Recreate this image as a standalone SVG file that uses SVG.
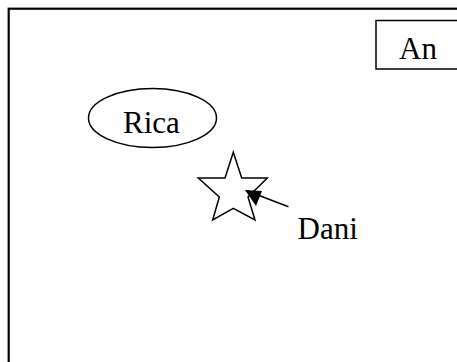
<svg xmlns="http://www.w3.org/2000/svg" width="457" height="362" viewBox="0 0 457 362">
<style>
.sh{fill:none;stroke:#000;stroke-width:1.5}
.t{font-family:"Liberation Serif","Times New Roman",serif;font-size:31px;fill:#000}
</style>
<defs>
<marker id="ah" markerWidth="10" markerHeight="8" refX="9" refY="4" orient="auto" markerUnits="userSpaceOnUse" viewBox="0 0 10 8">
<path d="M0,0 L10,4 L0,8 z" fill="#000"/>
</marker>
</defs>
<rect width="457" height="362" fill="#fff"/>
<rect id="frame" x="8.7" y="8.7" width="470" height="380" fill="none" stroke="#000" stroke-width="2.2"/>
<g id="An">
<rect class="sh" x="376" y="20.5" width="100" height="48.5"/>
<text class="t" x="399" y="59">An</text>
</g>
<g id="Rica">
<ellipse class="sh" cx="152.5" cy="118" rx="64" ry="29.5"/>
<text class="t" x="123" y="133">Rica</text>
</g>
<g id="star">
<polygon class="sh" points="233.3,152.3 241.7,178 267.3,178 248,197 255,220 233.3,208.3 212.7,220 219.3,197 198.3,178 225,178"/>
</g>
<g id="Dani">
<text class="t" x="297.5" y="239">Dani</text>
</g>
<g id="connectors">
<line x1="288.5" y1="206.7" x2="246" y2="190.5" stroke="#000" stroke-width="1.5"/>
<path d="M245,190 L262,191 L256,206 z" fill="#000"/>
</g>
</svg>
